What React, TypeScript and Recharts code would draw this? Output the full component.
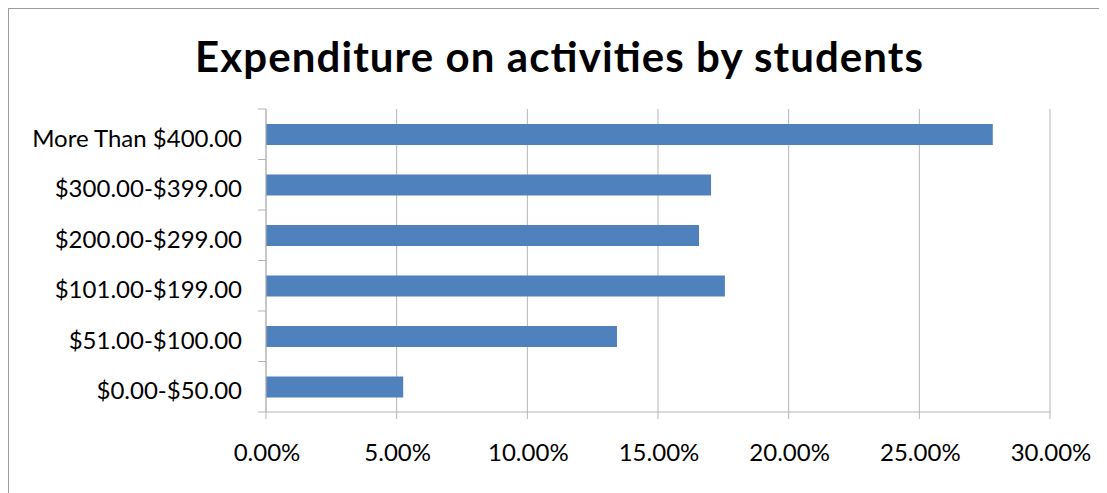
import React from 'react';
import { BarChart, Bar, XAxis, YAxis, CartesianGrid } from 'recharts';

const title = 'Expenditure on activities by students';
const categories = [
  'More Than $400.00',
  '$300.00-$399.00',
  '$200.00-$299.00',
  '$101.00-$199.00',
  '$51.00-$100.00',
  '$0.00-$50.00',
];
const shares = [0.2781, 0.1703, 0.1657, 0.1756, 0.1343, 0.0525];
const xTicks = [0, 0.05, 0.1, 0.15, 0.2, 0.25, 0.3];

const data = categories.map((c, i) => ({ category: c, value: shares[i] }));

const W = 1099;
const H = 485;
const MARGIN = { top: 101, right: 57, bottom: 41, left: 8 };
const Y_W = 250;
const X_H = 40;
const PLOT_LEFT = MARGIN.left + Y_W;
const PLOT_BOTTOM = H - MARGIN.bottom - X_H;
const BAND = (PLOT_BOTTOM - MARGIN.top) / categories.length;
const AXIS_COLOR = '#b5b5b5';
const FONT = 'Lato, "Open Sans", sans-serif';
const LABEL_SIZE = 24;

const fmt = (v: number) => (v * 100).toFixed(2) + '%';

const YTick = (props: any) => {
  const { y, payload, index } = props;
  return (
    <g>
      <text
        x={PLOT_LEFT - 24}
        y={y + 12.5}
        textAnchor="end"
        fontFamily={FONT}
        fontSize={LABEL_SIZE}
        fill="#000"
      >
        {payload.value}
      </text>
      <line x1={PLOT_LEFT - 8} x2={PLOT_LEFT} y1={y - BAND / 2} y2={y - BAND / 2} stroke={AXIS_COLOR} />
      {index === categories.length - 1 && (
        <line x1={PLOT_LEFT - 8} x2={PLOT_LEFT} y1={y + BAND / 2} y2={y + BAND / 2} stroke={AXIS_COLOR} />
      )}
    </g>
  );
};

const XTick = (props: any) => {
  const { x, payload } = props;
  return (
    <text
      x={x + 1}
      y={PLOT_BOTTOM + 49}
      textAnchor="middle"
      fontFamily={FONT}
      fontSize={LABEL_SIZE}
      fill="#000"
    >
      {fmt(payload.value)}
    </text>
  );
};

export default function App() {
  return (
    <div style={{ position: 'relative', width: W, height: H }}>
      <div
        style={{
          position: 'absolute',
          left: 0,
          top: 0,
          width: W + 1,
          height: H + 1,
          border: '1px solid #9c9c9c',
          boxSizing: 'border-box',
        }}
      />
      <div style={{ position: 'absolute', left: 0, top: 0 }}>
        <BarChart width={W} height={H} data={data} layout="vertical" margin={MARGIN}>
          <CartesianGrid horizontal={false} stroke={AXIS_COLOR} />
          <XAxis
            type="number"
            domain={[0, 0.3]}
            ticks={xTicks}
            interval={0}
            height={X_H}
            tickSize={7}
            tickLine={{ stroke: AXIS_COLOR }}
            axisLine={{ stroke: AXIS_COLOR }}
            tick={<XTick />}
          />
          <YAxis
            type="category"
            dataKey="category"
            width={Y_W}
            interval={0}
            tickLine={false}
            axisLine={{ stroke: AXIS_COLOR }}
            tick={<YTick />}
          />
          <Bar dataKey="value" fill="#4f81bd" barSize={21} isAnimationActive={false} />
        </BarChart>
      </div>
      <svg
        width={W}
        height={100}
        style={{ position: 'absolute', left: 0, top: 0, pointerEvents: 'none' }}
      >
        <text
          x={551}
          y={64}
          textAnchor="middle"
          fontFamily={FONT}
          fontWeight="bold"
          fontSize={42}
          textLength={728}
          lengthAdjust="spacing"
          fill="#000"
        >
          {title}
        </text>
      </svg>
    </div>
  );
}
